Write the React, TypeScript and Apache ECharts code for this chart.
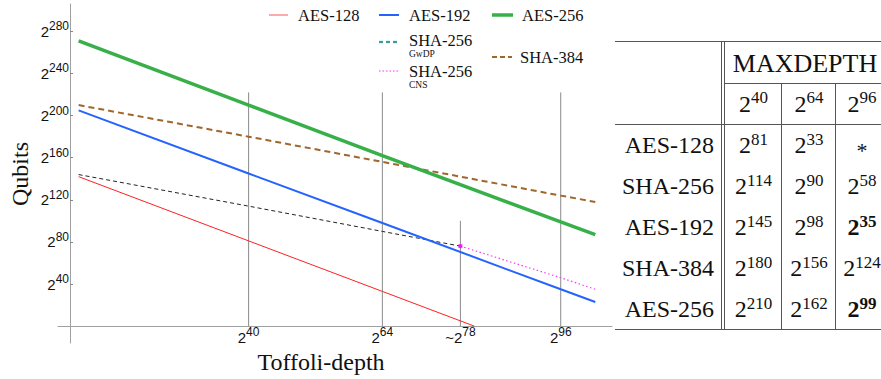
import React, { useEffect, useRef } from 'react';
import * as echarts from 'echarts';

// ---- plot data (log2 exponents) ----
const depthTicks = [40, 64, 78, 96];
const depthTickTops = [222, 222, 100, 222];
const qubitTicks = [40, 80, 120, 160, 200, 240, 280];

const aes128 = [[9.5, 142], [40, 81], [64, 33], [80.5, 0]];
const aes192 = [[9.5, 205], [40, 145], [64, 98], [96, 35], [102.2, 23]];
const aes256 = [[9.5, 271], [40, 210], [64, 162], [96, 99], [102.2, 87]];
const sha384 = [[9.5, 210], [40, 180], [64, 156], [96, 124], [102.2, 118]];
const sha256GwDP = [[9.5, 144], [40, 114], [64, 90], [78, 76]];
const sha256CNS = [[78, 76], [96, 46], [102.2, 35]];
const switchPoint = [[78, 76]];

// ---- table data ----
const tableRowNames = ['AES-128', 'SHA-256', 'AES-192', 'SHA-384', 'AES-256'];
const tableColExps = [40, 64, 96];
const tableCells: (number | null)[][] = [
  [81, 33, null],
  [114, 90, 58],
  [145, 98, 35],
  [180, 156, 124],
  [210, 162, 99],
];
const tableBold = [
  [false, false, false],
  [false, false, false],
  [false, false, true],
  [false, false, false],
  [false, false, true],
];

const SERIF = 'Liberation Serif';
const SANS = 'Liberation Sans';

const supRich = {
  b: { fontSize: 15, fontFamily: SANS, color: '#111' },
  s: { fontSize: 12, fontFamily: SANS, color: '#111', padding: [0, 0, 10, 0] },
};

const cellRich = {
  b: { fontSize: 24, fontFamily: SERIF, fill: '#111' },
  s: { fontSize: 17, fontFamily: SERIF, fill: '#111', padding: [0, 0, 12, 0] },
  bb: { fontSize: 24, fontFamily: SERIF, fontWeight: 'bold', fill: '#111' },
  sb: { fontSize: 17, fontFamily: SERIF, fontWeight: 'bold', fill: '#111', padding: [0, 0, 12, 0] },
};

function hline(x1: number, x2: number, y: number, stroke = '#555') {
  return { type: 'line', silent: true, shape: { x1, y1: y, x2, y2: y }, style: { stroke, lineWidth: 1 } };
}
function vline(x: number, y1: number, y2: number, stroke = '#555') {
  return { type: 'line', silent: true, shape: { x1: x, y1, x2: x, y2 }, style: { stroke, lineWidth: 1 } };
}

function buildTable() {
  const els: any[] = [];
  const top = 41.5, midH = 83.5, headB = 124.5, bottom = 329.5;
  const left = 615, right = 890;
  const colBounds = [725, 782, 836, 890];
  els.push(hline(left, right, top));
  els.push(hline(colBounds[0], right, midH));
  els.push(hline(left, right, headB));
  els.push(hline(left, right, bottom));
  els.push(vline(721.5, top, bottom));
  els.push(vline(724.5, top, bottom));
  els.push(vline(781.5, midH, bottom));
  els.push(vline(835.5, midH, bottom));
  els.push({
    type: 'text', silent: true, x: 805, y: 63,
    style: { text: 'MAXDEPTH', fontFamily: SERIF, fontSize: 26, fill: '#111', align: 'center', verticalAlign: 'middle' },
  });
  const colCenters = [753.5, 809, 862];
  tableColExps.forEach((e, i) => {
    els.push({
      type: 'text', silent: true, x: colCenters[i], y: 103.5,
      style: { text: `{b|2}{s|${e}}`, rich: cellRich, align: 'center', verticalAlign: 'middle' },
    });
  });
  const rowH = (bottom - headB) / tableRowNames.length;
  tableRowNames.forEach((name, r) => {
    const cy = headB + rowH * (r + 0.5);
    els.push({
      type: 'text', silent: true, x: 714, y: cy,
      style: { text: name, fontFamily: SERIF, fontSize: 24, fill: '#111', align: 'right', verticalAlign: 'middle' },
    });
    tableCells[r].forEach((v, c) => {
      if (v === null) {
        els.push({
          type: 'text', silent: true, x: colCenters[c], y: cy + 5,
          style: { text: '*', fontFamily: SERIF, fontSize: 22, fill: '#111', align: 'center', verticalAlign: 'middle' },
        });
      } else {
        const bold = tableBold[r][c];
        els.push({
          type: 'text', silent: true, x: colCenters[c], y: cy,
          style: {
            text: bold ? `{bb|2}{sb|${v}}` : `{b|2}{s|${v}}`,
            rich: cellRich, align: 'center', verticalAlign: 'middle',
          },
        });
      }
    });
  });
  return els;
}

function buildLegend() {
  const els: any[] = [];
  const txt = (x: number, y: number, text: string, size = 16.5) => ({
    type: 'text', silent: true, x, y,
    style: { text, fontFamily: SERIF, fontSize: size, fill: '#111', align: 'left', verticalAlign: 'middle' },
  });
  const ln = (x1: number, x2: number, y: number, stroke: string, lineWidth: number, lineDash?: number[]) => ({
    type: 'line', silent: true, shape: { x1, y1: y, x2, y2: y },
    style: { stroke, lineWidth, lineDash: lineDash || null },
  });
  els.push(ln(269, 288, 15, '#ff5555', 1));
  els.push(txt(298, 15, 'AES-128'));
  els.push(ln(379, 399, 15, '#2563ff', 2));
  els.push(txt(409, 15, 'AES-192'));
  els.push(ln(492, 513, 15, '#38b04a', 3.5));
  els.push(txt(522, 15, 'AES-256'));

  els.push(ln(379, 399, 42, '#66e0e0', 2.5, [4, 3]));
  els.push(ln(379, 399, 42, '#225555', 1, [4, 3]));
  els.push(txt(409, 40.5, 'SHA-256'));
  els.push(txt(409, 53.5, 'GwDP', 9.5));

  els.push(ln(379, 399, 71, '#ff33ff', 1.2, [1.5, 2]));
  els.push(txt(409, 71, 'SHA-256'));
  els.push(txt(409, 84.5, 'CNS', 9.5));

  els.push(ln(492, 512, 57, '#a0662b', 2, [5, 3]));
  els.push(txt(520, 57, 'SHA-384'));
  return els;
}

export default function App() {
  const ref = useRef<HTMLDivElement>(null);
  useEffect(() => {
    document.body.style.margin = '0';
    if (!ref.current) return;
    const chart = echarts.init(ref.current, undefined, { renderer: 'svg' });

    const lineSeries = (name: string, data: number[][], color: string, width: number, type: any = 'solid', z = 3) => ({
      name, type: 'line', data, symbol: 'none', silent: true, z,
      lineStyle: { color, width, type, cap: 'butt' },
      clip: true,
    });

    const verticals = depthTicks.map((d, i) => ({
      type: 'line', symbol: 'none', silent: true, z: 1,
      data: [[d, 0], [d, depthTickTops[i]]],
      lineStyle: { color: '#8a8a8a', width: 1 },
    }));

    const option: any = {
      animation: false,
      backgroundColor: '#fff',
      grid: { left: 58, right: 269, top: 4, bottom: 36 },
      xAxis: {
        type: 'value', min: 5.8, max: 105.2,
        axisLine: { show: true, onZero: true, lineStyle: { color: '#a0a0a0', width: 1 } },
        axisTick: { show: false },
        splitLine: { show: false },
        axisLabel: {
          customValues: depthTicks,
          margin: -17,
          formatter: (v: number) => (v === 78 ? `{b|~2}{s|${v}}` : `{b|2}{s|${v}}`),
          rich: supRich,
        },
      },
      yAxis: {
        type: 'value', min: -16, max: 306, offset: -12,
        axisLine: { show: true, onZero: false, lineStyle: { color: '#a0a0a0', width: 1 } },
        axisTick: { show: true, inside: true, length: 3, customValues: qubitTicks, lineStyle: { color: '#888' } },
        splitLine: { show: false },
        axisLabel: {
          customValues: qubitTicks,
          margin: 1,
          formatter: (v: number) => `{b|2}{s|${v}}`,
          rich: supRich,
        },
      },
      series: [
        ...verticals,
        lineSeries('AES-128', aes128, '#ff2020', 1),
        lineSeries('SHA-256 GwDP', sha256GwDP, '#222', 1, [4, 3]),
        lineSeries('SHA-256 CNS', sha256CNS, '#ff33ff', 1.2, [1.5, 2.5]),
        lineSeries('AES-192', aes192, '#2563ff', 2),
        lineSeries('SHA-384', sha384, '#a0662b', 2, [6, 4]),
        lineSeries('AES-256', aes256, '#38b04a', 3.5),
        {
          name: 'switch', type: 'scatter', data: switchPoint, symbol: 'rect', symbolSize: 4,
          itemStyle: { color: '#ff00ff' }, silent: true, z: 5,
        },
      ],
      graphic: [
        {
          type: 'text', silent: true, x: 20, y: 174, rotation: Math.PI / 2,
          style: { text: 'Qubits', fontFamily: SERIF, fontSize: 24, fill: '#111', align: 'center', verticalAlign: 'middle' },
        },
        {
          type: 'text', silent: true, x: 321, y: 362,
          style: { text: 'Toffoli-depth', fontFamily: SERIF, fontSize: 24, fill: '#111', align: 'center', verticalAlign: 'middle' },
        },
        ...buildLegend(),
        ...buildTable(),
      ],
    };
    chart.setOption(option);
    return () => chart.dispose();
  }, []);
  return <div ref={ref} style={{ width: 881, height: 379 }} />;
}
